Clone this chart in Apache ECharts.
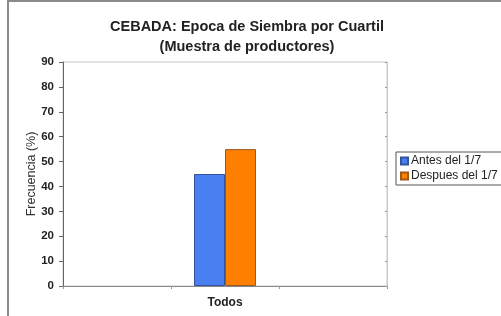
<!DOCTYPE html>
<html>
<head>
<meta charset="utf-8">
<script src="https://cdn.jsdelivr.net/npm/echarts@6/dist/echarts.min.js"></script>
<style>
  html, body { margin: 0; padding: 0; background: #fff; }
  #chart { width: 501px; height: 316px; }
</style>
</head>
<body>
<div id="chart"></div>
<script>
// datos
const categorias = ["", "Todos", ""];
const antes = [null, 45, null];
const despues = [null, 55, null];
const nombresSerie = ["Antes del 1/7", "Despues del 1/7"];

const chart = echarts.init(document.getElementById("chart"));
const fuente = "Liberation Sans, Arial, sans-serif";

const option = {
  animation: false,
  title: {
    text: "CEBADA: Epoca de Siembra por Cuartil\n(Muestra de productores)",
    left: 242,
    top: 12,
    textAlign: "center",
    textStyle: {
      fontFamily: fuente,
      fontSize: 14.5,
      fontWeight: "bold",
      color: "#222",
      lineHeight: 20,
    },
  },
  graphic: [
    {
      type: "rect",
      shape: { x: 8, y: 1, width: 600, height: 400 },
      style: { fill: "none", stroke: "#8a8a8a", lineWidth: 2 },
      silent: true,
    },
  ],
  legend: {
    orient: "vertical",
    left: 396,
    top: 152,
    data: nombresSerie,
    icon: "rect",
    itemWidth: 7,
    itemHeight: 7,
    itemGap: 3,
    padding: [3, 30, 3, 4],
    backgroundColor: "#fff",
    borderColor: "#555",
    borderWidth: 1,
    borderRadius: 0,
    textStyle: {
      fontFamily: fuente,
      fontSize: 12,
      color: "#222",
      padding: [0, 0, 0, -2],
    },
  },
  grid: {
    left: 63,
    top: 62,
    right: 114,
    bottom: 30,
    show: true,
    borderColor: "#c8c8c8",
    borderWidth: 1,
  },
  xAxis: {
    type: "category",
    data: categorias,
    boundaryGap: true,
    axisLine: { lineStyle: { color: "#888", width: 1 } },
    axisTick: { show: true, length: 3, lineStyle: { color: "#999" } },
    axisLabel: {
      margin: 11,
      fontFamily: fuente,
      fontSize: 12,
      fontWeight: "bold",
      color: "#222",
    },
  },
  yAxis: [
    {
      type: "value",
      min: 0,
      max: 90,
      interval: 10,
      name: "Frecuencia (%)",
      nameLocation: "middle",
      nameGap: 25,
      nameMoveOverlap: false,
      nameTextStyle: { fontFamily: fuente, fontSize: 12.5, color: "#333" },
      axisLine: { show: true, lineStyle: { color: "#666", width: 1 } },
      axisTick: { show: true, length: 4, lineStyle: { color: "#666" } },
      splitLine: { show: false },
      axisLabel: {
        margin: 9,
        fontFamily: fuente,
        fontSize: 11.5,
        fontWeight: "bold",
        color: "#222",
      },
    },
    {
      type: "value",
      position: "right",
      min: 0,
      max: 90,
      interval: 10,
      axisLine: { show: true, lineStyle: { color: "#c8c8c8" } },
      axisTick: { show: true, inside: true, length: 2, lineStyle: { color: "#999" } },
      axisLabel: { show: false },
      splitLine: { show: false },
    },
  ],
  series: [
    {
      name: nombresSerie[0],
      type: "bar",
      data: antes,
      barWidth: 31,
      barGap: "0%",
      itemStyle: { color: "#4a7ff2", borderColor: "#34549a", borderWidth: 1 },
    },
    {
      name: nombresSerie[1],
      type: "bar",
      data: despues,
      barWidth: 31,
      barGap: "0%",
      itemStyle: { color: "#ff7f00", borderColor: "#9a5a1c", borderWidth: 1 },
    },
  ],
};

chart.setOption(option);
</script>
</body>
</html>
